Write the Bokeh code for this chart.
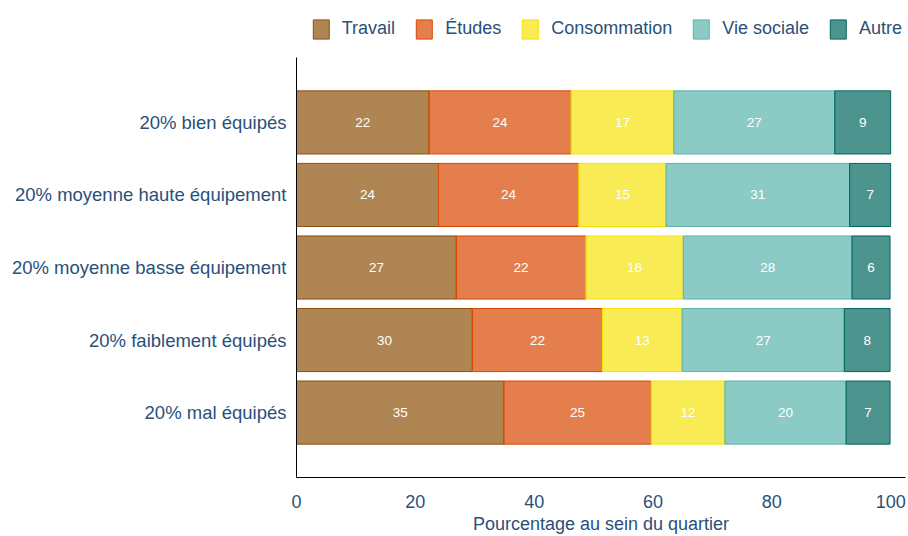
from bokeh.plotting import figure
from bokeh.layouts import column
from bokeh.models import FactorRange, Range1d, Legend, LegendItem, ColumnDataSource, FixedTicker
from bokeh.core.properties import value
from bokeh.embed import file_html
from bokeh.resources import INLINE

categories = ["20% bien équipés", "20% moyenne haute équipement", "20% moyenne basse équipement",
              "20% faiblement équipés", "20% mal équipés"]
series_names = ["Travail", "Études", "Consommation", "Vie sociale", "Autre"]
travail = [22.3, 23.9, 26.9, 29.6, 34.9]
etudes = [23.9, 23.6, 21.8, 21.9, 24.8]
consommation = [17.3, 14.7, 16.4, 13.4, 12.4]
vie_sociale = [27.1, 30.9, 28.4, 27.3, 20.4]
autre = [9.4, 6.9, 6.4, 7.7, 7.4]
x_ticks = [0, 20, 40, 60, 80, 100]

series = [travail, etudes, consommation, vie_sociale, autre]
base_colors = ["#8c510a", "#d94801", "#f5e30a", "#5ab4ac", "#01665e"]

FONT = "Liberation Sans"
TXT = "#29507a"

# Legend strip (separate figure above the chart); its helper glyphs sit outside its visible range
lf = figure(width=908, height=57, output_backend="svg", toolbar_location=None,
            x_range=Range1d(0, 1), y_range=Range1d(0, 1), x_axis_type=None, y_axis_type=None,
            min_border=0)
lf.outline_line_color = None
lf.xgrid.visible = False
lf.ygrid.visible = False

# Main chart
p = figure(width=908, height=479, output_backend="svg", toolbar_location=None,
           y_range=FactorRange(factors=categories[::-1], range_padding=0.158),
           x_range=Range1d(0, 102.5),
           min_border_left=296, min_border_right=3, min_border_top=0, min_border_bottom=59)
p.outline_line_color = None
p.xgrid.visible = False
p.ygrid.visible = False

items = []
left = [0.0] * len(categories)
for name, vals, col in zip(series_names, series, base_colors):
    right = [l + v for l, v in zip(left, vals)]
    src = ColumnDataSource(dict(y=categories, left=left, right=right,
                                xc=[(l + r) / 2 for l, r in zip(left, right)],
                                lab=[f"{v:.0f}" for v in vals]))
    p.hbar(y="y", left="left", right="right", height=0.87, source=src,
           fill_color=col, fill_alpha=0.7, line_color=col, line_width=1)
    p.text(x="xc", y="y", text="lab", source=src, text_align="center", text_baseline="middle",
           text_color="white", text_font_size="13.5px", text_font=value(FONT))
    helper = lf.hbar(y=[-10], left=[-10], right=[-9], height=0.5,
                     fill_color=col, fill_alpha=0.7, line_color=col, line_width=1)
    items.append(LegendItem(label=name, renderers=[helper]))
    left = right

legend = Legend(items=items, orientation="horizontal", location="right",
                glyph_width=20, glyph_height=24, label_text_font_size="18px",
                label_text_color=TXT, label_text_font=FONT, label_standoff=11,
                spacing=19, padding=5, margin=3, border_line_color=None,
                background_fill_alpha=0)
lf.add_layout(legend, "center")

for ax in (p.xaxis[0], p.yaxis[0]):
    ax.axis_line_color = "black"
    ax.axis_line_width = 1
    ax.major_tick_line_color = None
    ax.minor_tick_line_color = None
    ax.major_tick_out = 0
    ax.major_tick_in = 0
    ax.minor_tick_out = 0
    ax.major_label_text_color = TXT
    ax.major_label_text_font = FONT

p.yaxis.major_label_text_font_size = "18.5px"
p.xaxis.major_label_text_font_size = "18px"
p.yaxis.major_label_standoff = 10
p.xaxis.ticker = FixedTicker(ticks=x_ticks)
p.xaxis.major_label_standoff = 17
p.xaxis.axis_label = "Pourcentage au sein du quartier"
p.xaxis.axis_label_text_font_size = "18px"
p.xaxis.axis_label_text_font_style = "normal"
p.xaxis.axis_label_text_color = TXT
p.xaxis.axis_label_text_font = FONT
p.xaxis.axis_label_standoff = 3

layout = column(lf, p, spacing=0)
open("out.html", "w").write(file_html(layout, INLINE))
